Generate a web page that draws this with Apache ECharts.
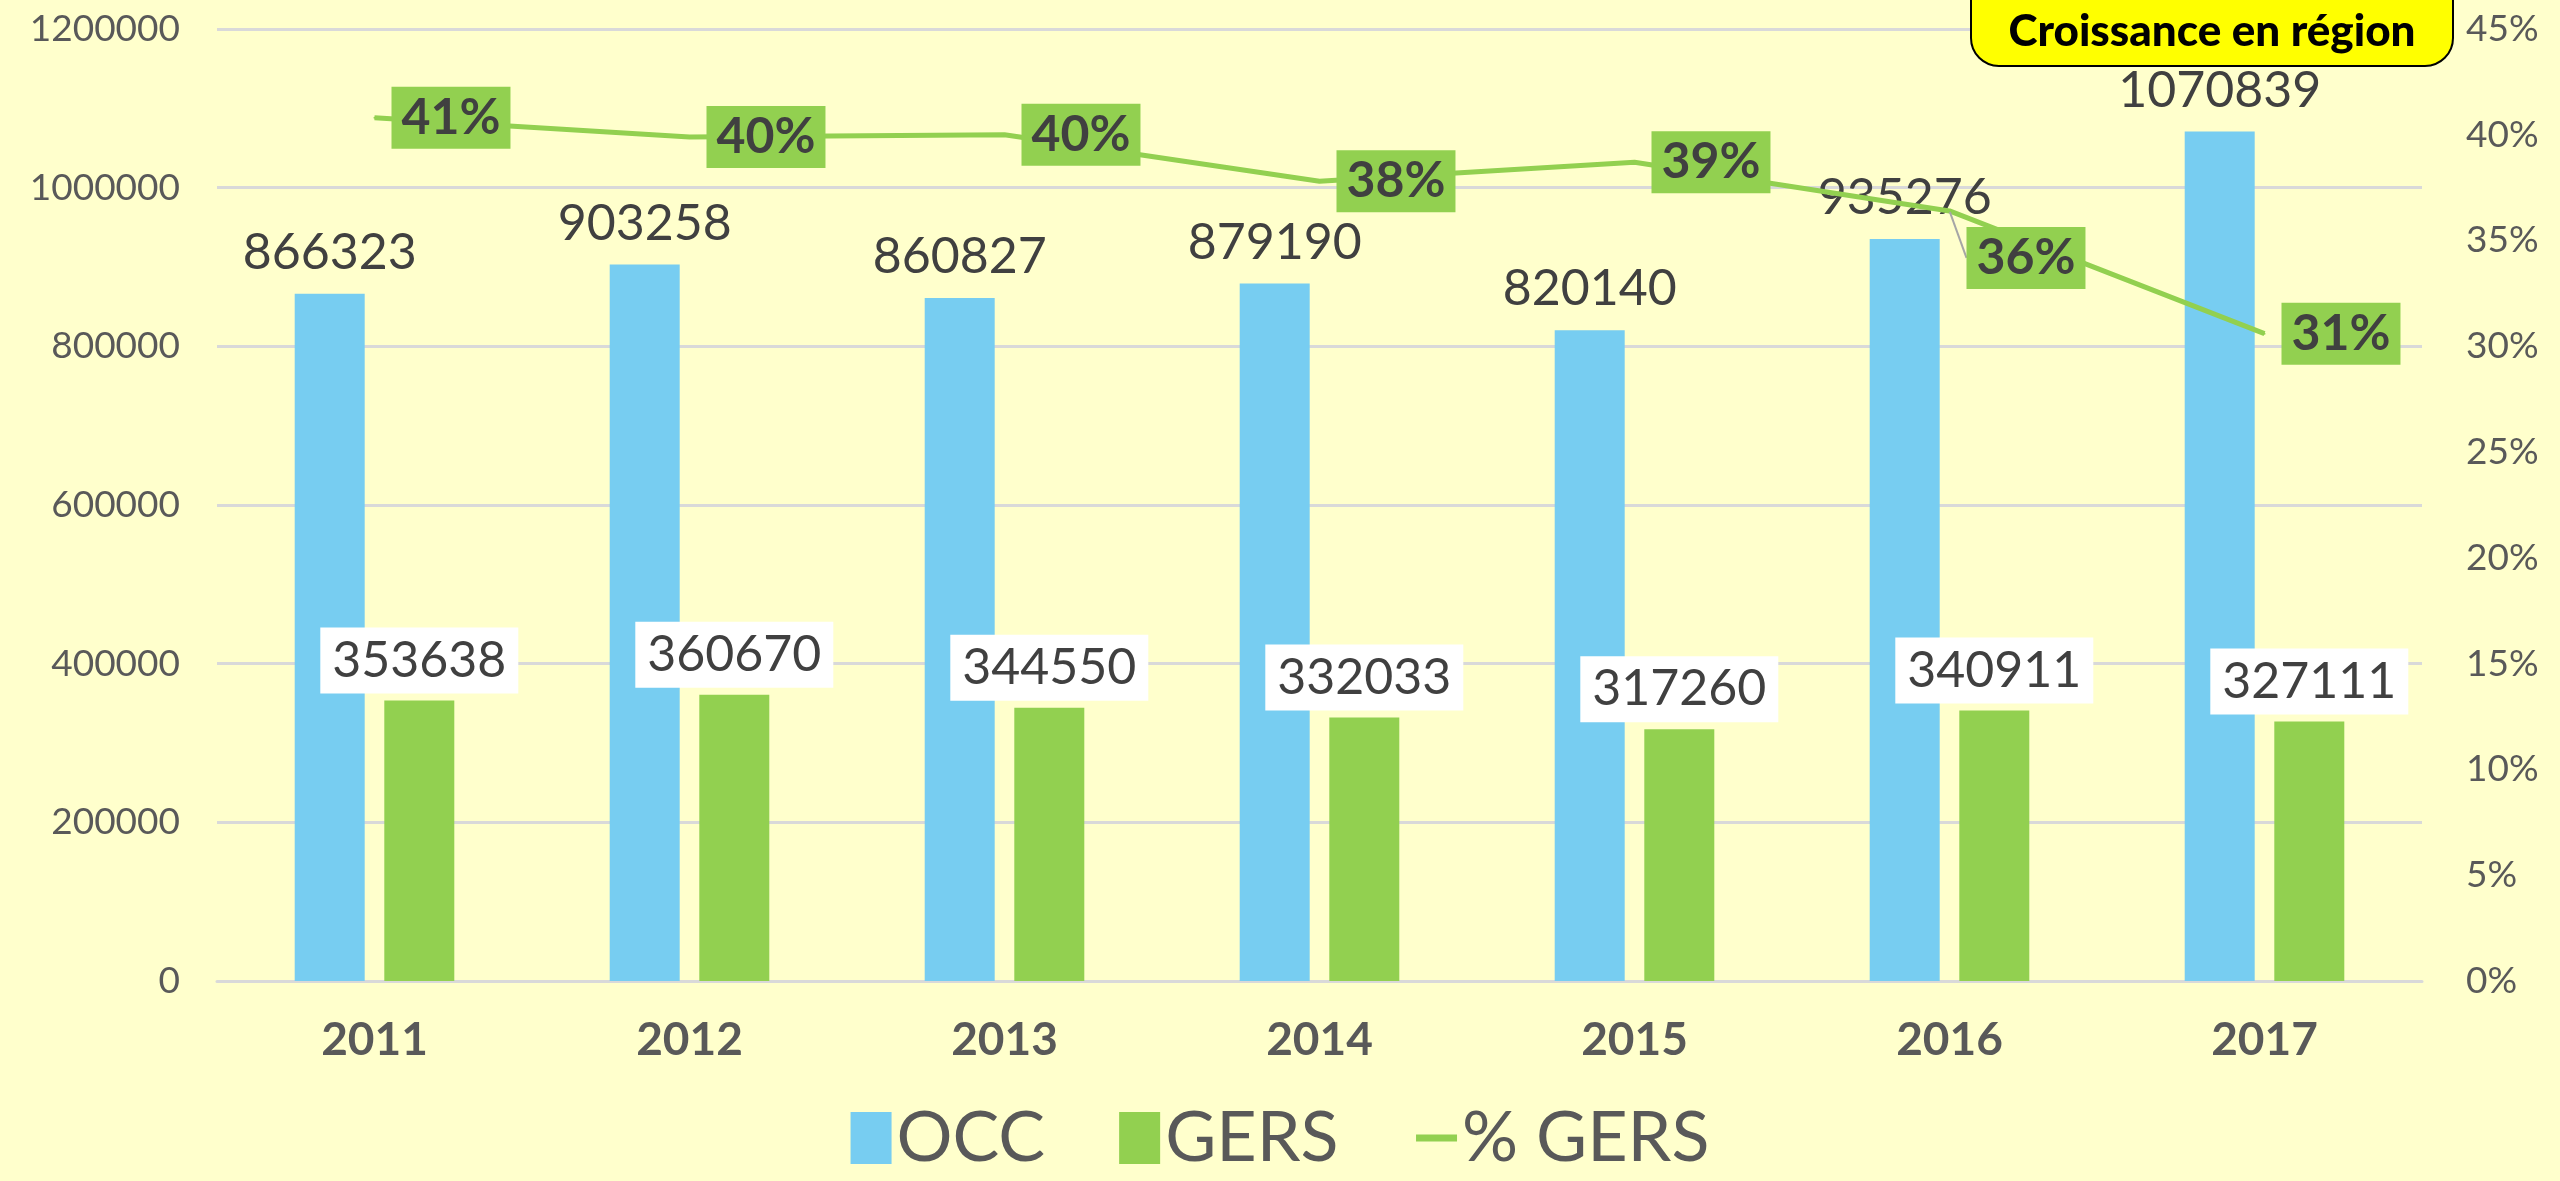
<!DOCTYPE html>
<html>
<head>
<meta charset="utf-8">
<script src="https://cdn.jsdelivr.net/npm/echarts@6/dist/echarts.min.js"></script>
<style>
  html, body { margin: 0; padding: 0; background: #FFFFCC; }
  #chart { width: 2560px; height: 1181px; }
</style>
</head>
<body>
<div id="chart"></div>
<script>
// données
const years = ['2011', '2012', '2013', '2014', '2015', '2016', '2017'];
const occ = [866323, 903258, 860827, 879190, 820140, 935276, 1070839];
const gers = [353638, 360670, 344550, 332033, 317260, 340911, 327111];
const pctGers = [40.8, 39.9, 40.0, 37.8, 38.7, 36.4, 30.6];
const seriesNames = ['OCC', 'GERS', '% GERS'];
const badgeText = 'Croissance en région';

const FONT = 'Lato, "Noto Sans", sans-serif';
const BLUE = '#77CDF1';
const GREEN = '#92D050';
const TXT = '#404040';
const AXIS = '#595959';

const chart = echarts.init(document.getElementById('chart'));

chart.setOption({
  backgroundColor: '#FFFFCC',
  animation: false,
  textStyle: { fontFamily: FONT },
  grid: { left: 217, right: 138, top: 29, bottom: 200 },
  legend: {
    data: [
      { name: seriesNames[0], icon: 'rect' },
      { name: seriesNames[1], icon: 'rect' },
      { name: seriesNames[2], itemStyle: { opacity: 0 }, lineStyle: { width: 7 } },
    ],
    left: 'center',
    top: 1098,
    itemWidth: 41,
    itemHeight: 52,
    itemGap: 74,
    textStyle: { fontFamily: FONT, fontSize: 70, color: AXIS },
  },
  xAxis: {
    type: 'category',
    data: years,
    axisTick: { show: false },
    axisLine: { lineStyle: { color: '#D9D9D9', width: 3 } },
    axisLabel: { color: AXIS, fontSize: 46, fontWeight: 'bold', margin: 36, fontFamily: FONT },
  },
  yAxis: [{
    type: 'value',
    min: 0,
    max: 1200000,
    interval: 200000,
    axisLabel: { color: AXIS, fontSize: 37, margin: 37, fontFamily: FONT, formatter: v => String(v) },
    splitLine: { lineStyle: { color: '#D9D9D9', width: 3 } },
  }, {
    type: 'value',
    min: 0,
    max: 45,
    interval: 5,
    axisLabel: { color: AXIS, fontSize: 37, margin: 44, formatter: '{value}%', fontFamily: FONT },
    splitLine: { show: false },
  }],
  series: [{
    name: seriesNames[0],
    type: 'bar',
    data: occ,
    barWidth: 70,
    barGap: '28%',
    itemStyle: { color: BLUE },
    label: {
      show: true,
      position: 'top',
      distance: 16,
      color: TXT,
      fontSize: 50,
      fontFamily: FONT,
    },
  }, {
    name: seriesNames[1],
    type: 'bar',
    data: gers,
    barWidth: 70,
    itemStyle: { color: GREEN },
    label: {
      show: true,
      position: 'top',
      distance: 7,
      color: TXT,
      fontSize: 50,
      lineHeight: 50,
      fontFamily: FONT,
      backgroundColor: '#FFFFFF',
      padding: [8, 12],
    },
  }, {
    name: seriesNames[2],
    type: 'line',
    yAxisIndex: 1,
    data: pctGers.map((v, i) => i === 5
      ? { value: v, labelLine: { show: true, lineStyle: { color: '#A6A6A6', width: 2 } } }
      : v),
    symbol: 'circle',
    symbolSize: 2,
    lineStyle: { color: GREEN, width: 5 },
    itemStyle: { color: GREEN },
    z: 5,
    label: {
      show: true,
      position: 'right',
      distance: 16,
      color: TXT,
      fontSize: 50,
      fontWeight: 'bold',
      lineHeight: 50,
      fontFamily: FONT,
      backgroundColor: GREEN,
      padding: [6, 10],
      formatter: p => Math.round(p.value) + '%',
    },
    labelLayout: p => (p.dataIndex === 5 ? { dy: 47 } : {}),
  }],
  graphic: [{
    type: 'rect',
    shape: { x: 1971, y: -30, width: 482, height: 96, r: [0, 0, 28, 28] },
    style: { fill: '#FFFF00', stroke: '#000000', lineWidth: 2 },
    z: 10,
  }, {
    type: 'text',
    x: 2212,
    y: 32,
    z: 11,
    style: {
      text: badgeText,
      fill: '#000000',
      font: '900 44px ' + FONT,
      textAlign: 'center',
      textVerticalAlign: 'middle',
    },
  }],
});
</script>
</body>
</html>
